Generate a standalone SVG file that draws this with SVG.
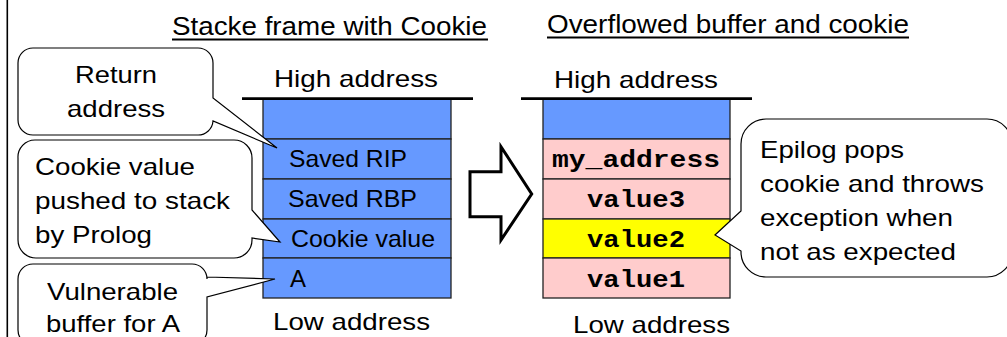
<svg xmlns="http://www.w3.org/2000/svg" width="1007" height="337" viewBox="0 0 1007 337">
  <style>
    .t { font-family: "Liberation Sans", Arial, sans-serif; font-size: 24px; fill: #000; }
    .title { font-size: 25px; }
    .mono { font-family: "Liberation Mono", "Courier New", monospace; font-size: 24px; font-weight: bold; fill: #000; }
    .blue { fill: #6699FF; stroke: #222; stroke-width: 1.3; }
    .pink { fill: #FFCCCC; stroke: #222; stroke-width: 1.3; }
    .yellow { fill: #FFFF00; stroke: #222; stroke-width: 1.3; }
    .callout { fill: #fff; stroke: #000; stroke-width: 1.2; }
    .rule { stroke: #000; stroke-width: 2.7; }
    .uline { stroke: #000; stroke-width: 1.8; }
  </style>

  <rect width="1007" height="337" fill="#fff"/>
  <!-- page margin rule -->
  <line x1="7.3" y1="0" x2="7.3" y2="337" stroke="#000" stroke-width="1.6"/>

  <!-- headings -->
  <g id="title-left">
    <text class="t title" x="172" y="35" textLength="315" lengthAdjust="spacingAndGlyphs">Stacke frame with Cookie</text>
    <line class="uline" x1="172" y1="39.5" x2="488" y2="39.5"/>
  </g>
  <g id="title-right">
    <text class="t title" x="547" y="32.5" textLength="362" lengthAdjust="spacingAndGlyphs">Overflowed buffer and cookie</text>
    <line class="uline" x1="547" y1="37.5" x2="909" y2="37.5"/>
  </g>

  <!-- normal stack frame -->
  <g id="stack-left">
    <text class="t" x="274" y="87" textLength="164" lengthAdjust="spacingAndGlyphs">High address</text>
    <rect class="blue" x="263" y="99" width="188" height="40"/>
    <rect class="blue" x="263" y="139" width="188" height="40"/>
    <rect class="blue" x="263" y="179" width="188" height="40"/>
    <rect class="blue" x="263" y="219" width="188" height="39"/>
    <rect class="blue" x="263" y="258" width="188" height="40"/>
    <line class="rule" x1="242" y1="98.7" x2="473" y2="98.7"/>
    <text class="t" x="289" y="167" textLength="118" lengthAdjust="spacingAndGlyphs">Saved RIP</text>
    <text class="t" x="288" y="206.5" textLength="129" lengthAdjust="spacingAndGlyphs">Saved RBP</text>
    <text class="t" x="291" y="246.5" textLength="144" lengthAdjust="spacingAndGlyphs">Cookie value</text>
    <text class="t" x="290" y="286.5" textLength="16" lengthAdjust="spacingAndGlyphs">A</text>
    <text class="t" x="273" y="330" textLength="157" lengthAdjust="spacingAndGlyphs">Low address</text>
  </g>

  <!-- overflowed stack frame -->
  <g id="stack-right">
    <text class="t" x="554" y="88" textLength="164" lengthAdjust="spacingAndGlyphs">High address</text>
    <rect class="blue" x="543" y="99" width="187" height="40"/>
    <rect class="pink" x="543" y="139" width="187" height="40"/>
    <rect class="pink" x="543" y="179" width="187" height="40"/>
    <rect class="yellow" x="543" y="219" width="187" height="39"/>
    <rect class="pink" x="543" y="258" width="187" height="40"/>
    <line class="rule" x1="521" y1="98.7" x2="752" y2="98.7"/>
    <text class="mono" x="552" y="167" textLength="168" lengthAdjust="spacingAndGlyphs">my_address</text>
    <text class="mono" x="587" y="206.5" textLength="98" lengthAdjust="spacingAndGlyphs">value3</text>
    <text class="mono" x="587" y="246.5" textLength="98" lengthAdjust="spacingAndGlyphs">value2</text>
    <text class="mono" x="587" y="286.5" textLength="98" lengthAdjust="spacingAndGlyphs">value1</text>
    <text class="t" x="573" y="333" textLength="157" lengthAdjust="spacingAndGlyphs">Low address</text>
  </g>

  <!-- callouts -->
  <g id="callout-return">
    <path class="callout" d="M33 48 H198 A15 15 0 0 1 213 63 V98 L277 148 L213 121 A15 15 0 0 1 198 135 H33 A15 15 0 0 1 18 120 V63 A15 15 0 0 1 33 48 Z"/>
    <text class="t" x="75" y="83" textLength="82" lengthAdjust="spacingAndGlyphs">Return</text>
    <text class="t" x="67" y="117" textLength="98" lengthAdjust="spacingAndGlyphs">address</text>
  </g>

  <g id="callout-cookie">
    <path class="callout" d="M35 140 H234 A18 18 0 0 1 252 158 V210 L280 242 L252 238 V240 A18 18 0 0 1 234 258 H36 A18 18 0 0 1 18 240 V158 A17 17 0 0 1 35 140 Z"/>
    <text class="t" x="35" y="175" textLength="160" lengthAdjust="spacingAndGlyphs">Cookie value</text>
    <text class="t" x="35" y="208.5" textLength="195" lengthAdjust="spacingAndGlyphs">pushed to stack</text>
    <text class="t" x="35" y="243" textLength="117" lengthAdjust="spacingAndGlyphs">by Prolog</text>
  </g>

  <g id="callout-buffer">
    <path class="callout" d="M33 264 H192 A15 15 0 0 1 207 279 V277 L275 279 L207 297 V330 A15 15 0 0 1 192 345 H33 A15 15 0 0 1 18 330 V279 A15 15 0 0 1 33 264 Z"/>
    <text class="t" x="47" y="300" textLength="131" lengthAdjust="spacingAndGlyphs">Vulnerable</text>
    <text class="t" x="46" y="332" textLength="134" lengthAdjust="spacingAndGlyphs">buffer for A</text>
  </g>

  <g id="callout-epilog">
    <path class="callout" d="M766 119 H987 A25 25 0 0 1 1012 144 V252 A25 25 0 0 1 987 277 H766 A25 25 0 0 1 741 252 V251 L715 235 L741 211 V144 A25 25 0 0 1 766 119 Z"/>
    <text class="t" x="760" y="158" textLength="144" lengthAdjust="spacingAndGlyphs">Epilog pops</text>
    <text class="t" x="760" y="192" textLength="224" lengthAdjust="spacingAndGlyphs">cookie and throws</text>
    <text class="t" x="760" y="226" textLength="193" lengthAdjust="spacingAndGlyphs">exception when</text>
    <text class="t" x="760" y="260" textLength="196" lengthAdjust="spacingAndGlyphs">not as expected</text>
  </g>

  <!-- transition arrow between the two frames -->
  <g id="connectors">
    <path d="M470 171.7 H501 V146.7 L531.7 194 L501 240 V216.7 H470 Z" fill="#fff" stroke="#000" stroke-width="3" stroke-linejoin="miter"/>
  </g>
</svg>
